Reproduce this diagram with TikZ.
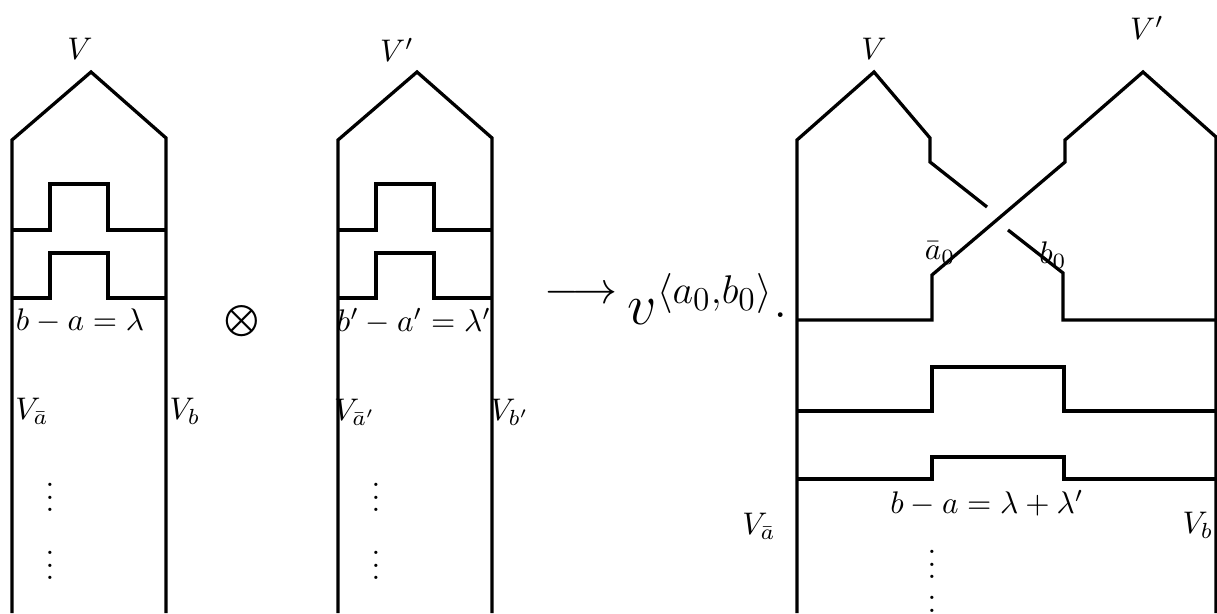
\documentclass[tikz,border=0pt]{standalone}
\usepackage{graphicx}
\usetikzlibrary{arrows.meta}
\tikzset{strand/.style={line width=1.05pt,line join=miter},lbl/.style={inner sep=0pt}}
\begin{document}
\begin{tikzpicture}[x=0.32pt,y=-0.32pt]
\useasboundingbox (0,0) rectangle (1217,613);
% the two factors
\foreach \dx in {0,326}{
\begin{scope}[shift={(\dx,0)}]
\draw[strand] (12,613)--(12,140)--(91,72)--(166,138)--(166,613);
\draw[strand] (12,230)--(50,230)--(50,184)--(108,184)--(108,230)--(166,230);
\draw[strand] (12,298)--(50,298)--(50,253)--(108,253)--(108,298)--(166,298);
\node[lbl] (dotsup\dx) at (50,488){$\vdots$};\node[lbl] (dotslow\dx) at (50,556){$\vdots$};
\end{scope}}
\node[lbl] (topV) at (80,49){$V$};\node[lbl] (topVp) at (397,50){$V'$};
\node[lbl] (eqA) at (80,321){$b-a=\lambda$};\node[lbl] (eqB) at (414,321){$b'-a'=\lambda'$};
\node[lbl] (VaA) at (32,411){$V_{\bar a}$};\node[lbl] (VbA) at (185,411){$V_b$};
\node[lbl] (VaB) at (355,412){$V_{\bar a'}$};\node[lbl] (VbB) at (510,412){$V_{b'}$};
\node[lbl] (tensor) at (242,321){$\bigotimes$};
\node[lbl,font=\Large] (maps) at (581,295){$\longrightarrow$};
\node[lbl,anchor=base west] (coef) at (627,324){\scalebox{0.89}{\huge$v^{\langle a_0,b_0\rangle}$\raisebox{2.4pt}{.}}};
% the product
\draw[strand] (797,613)--(797,140)--(874,72)--(930,138)--(930,162)--(987,207);
\draw[strand] (1008,230)--(1063,273)--(1063,320)--(1217,320);
\draw[strand] (1216,613)--(1216,137)--(1143,72)--(1065,140)--(1065,162)--(932,275)--(932,320)--(797,320);
\draw[strand] (797,411)--(932,411)--(932,367)--(1064,367)--(1064,411)--(1217,411);
\draw[strand] (797,479)--(932,479)--(932,457)--(1064,457)--(1064,479)--(1217,479);
\node[lbl] (topVr) at (874,49){$V$};\node[lbl] (topVpr) at (1147,28){$V'$};
\node[lbl] (abar) at (940,253){$\bar a_0$};\node[lbl] (bnot) at (1053,255){$b_0$};
\node[lbl] (eqC) at (987,503){$b-a=\lambda+\lambda'$};
\node[lbl] (VaC) at (759,526){$V_{\bar a}$};\node[lbl] (VbC) at (1198,525){$V_b$};
\node[lbl] (dotsupC) at (932,555){$\vdots$};\node[lbl] (dotslowC) at (932,601){$\vdots$};
\end{tikzpicture}
\end{document}
